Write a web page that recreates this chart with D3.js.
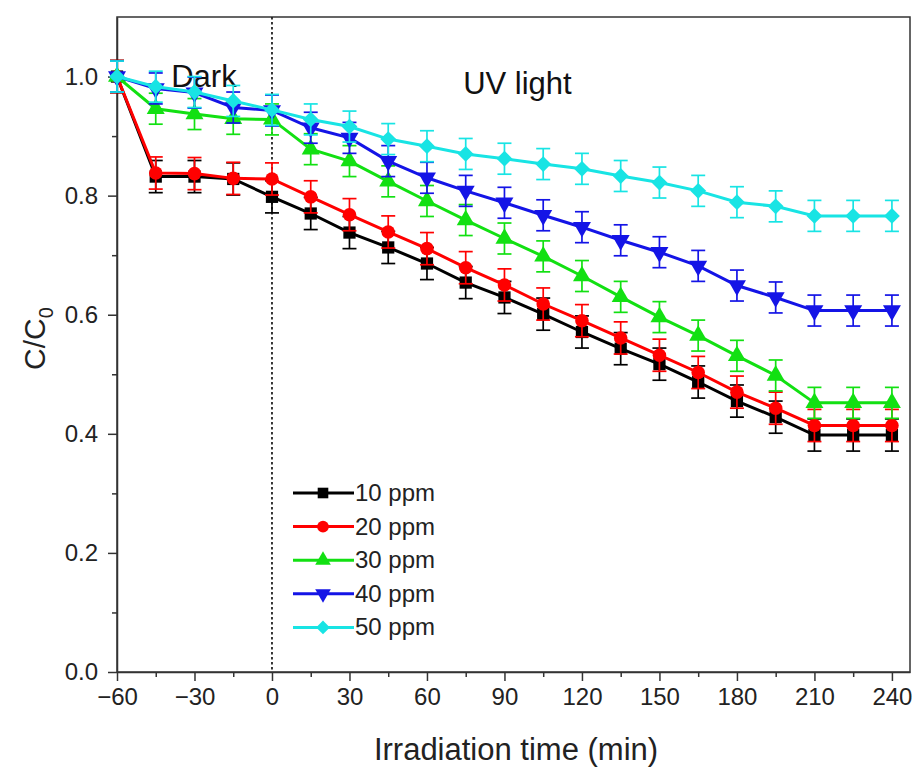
<!DOCTYPE html>
<html>
<head>
<meta charset="utf-8">
<script src="https://cdn.jsdelivr.net/npm/d3@7"></script>
<style>
  html, body { margin: 0; padding: 0; background: #fff; }
  svg { display: block; font-family: "Liberation Sans", Arial, sans-serif; }
</style>
</head>
<body>
<svg id="chart" width="916" height="771"></svg>
<script>
// Sampling times (min); negative values are the dark adsorption period
const times = [-60, -45, -30, -15, 0, 15, 30, 45, 60, 75, 90, 105, 120, 135, 150, 165, 180, 195, 210, 225, 240];

// C/C0 for each initial concentration
const ppm10 = [1.00, 0.832, 0.832, 0.828, 0.798, 0.770, 0.738, 0.713, 0.686, 0.654, 0.629, 0.601, 0.571, 0.543, 0.517, 0.487, 0.455, 0.428, 0.398, 0.398, 0.398];
const ppm20 = [1.00, 0.838, 0.837, 0.829, 0.828, 0.798, 0.768, 0.739, 0.711, 0.679, 0.650, 0.618, 0.590, 0.561, 0.532, 0.503, 0.470, 0.443, 0.414, 0.414, 0.414];
const ppm30 = [1.00, 0.946, 0.937, 0.929, 0.928, 0.878, 0.858, 0.824, 0.791, 0.759, 0.728, 0.698, 0.665, 0.630, 0.596, 0.565, 0.531, 0.498, 0.452, 0.452, 0.452];
const ppm40 = [1.00, 0.980, 0.973, 0.948, 0.943, 0.914, 0.897, 0.858, 0.830, 0.808, 0.788, 0.767, 0.747, 0.725, 0.705, 0.682, 0.649, 0.629, 0.607, 0.607, 0.607];
const ppm50 = [1.00, 0.983, 0.974, 0.959, 0.944, 0.928, 0.916, 0.895, 0.883, 0.870, 0.862, 0.853, 0.845, 0.833, 0.822, 0.808, 0.789, 0.782, 0.766, 0.766, 0.766];

// Standard deviation of C/C0 per series
const errors = [0.027, 0.027, 0.026, 0.026, 0.026];

const seriesNames = ["10 ppm", "20 ppm", "30 ppm", "40 ppm", "50 ppm"];
const seriesColors = ["#000000", "#ff0000", "#12e012", "#1414e6", "#18e4e4"];

const xTicks = [-60, -30, 0, 30, 60, 90, 120, 150, 180, 210, 240];
const yTicks = [0.0, 0.2, 0.4, 0.6, 0.8, 1.0];

const seriesValues = [ppm10, ppm20, ppm30, ppm40, ppm50];

const svg = d3.select("#chart");
const plotLeft = 117, plotRight = 910, plotTop = 17, plotBottom = 672;

const x = d3.scaleLinear().domain([-60, 247]).range([plotLeft, plotRight]);
const y = d3.scaleLinear().domain([0, 1.1]).range([plotBottom, plotTop]);

// Marker shapes: square, circle, up triangle, down triangle, diamond
const markers = [
  { type: d3.symbolSquare, size: 150, rot: 0 },
  { type: d3.symbolCircle, size: 145, rot: 0 },
  { type: d3.symbolTriangle, size: 140, rot: 0 },
  { type: d3.symbolTriangle, size: 140, rot: 180 },
  { type: d3.symbolSquare, size: 125, rot: 45 }
];

// Plot frame
svg.append("rect")
  .attr("x", plotLeft).attr("y", plotTop)
  .attr("width", plotRight - plotLeft).attr("height", plotBottom - plotTop)
  .attr("fill", "none").attr("stroke", "#333").attr("stroke-width", 1.5);

// Axes with major and minor ticks
const fmtY = d3.format(".1f");
const fmtX = v => (v < 0 ? "\u2212" + Math.abs(v) : String(v));

const xMinor = d3.range(-60, 241, 15).filter(v => !xTicks.includes(v));
const yMinor = [0.1, 0.3, 0.5, 0.7, 0.9];

const xAxis = svg.append("g").attr("transform", `translate(0,${plotBottom})`)
  .call(d3.axisBottom(x).tickValues(xTicks).tickFormat(fmtX).tickSizeInner(9).tickSizeOuter(0).tickPadding(7));
svg.append("g").attr("transform", `translate(0,${plotBottom})`)
  .call(d3.axisBottom(x).tickValues(xMinor).tickFormat("").tickSizeInner(5).tickSizeOuter(0))
  .select(".domain").remove();

const yAxis = svg.append("g").attr("transform", `translate(${plotLeft},0)`)
  .call(d3.axisLeft(y).tickValues(yTicks).tickFormat(fmtY).tickSizeInner(9).tickSizeOuter(0).tickPadding(10));
svg.append("g").attr("transform", `translate(${plotLeft},0)`)
  .call(d3.axisLeft(y).tickValues(yMinor).tickFormat("").tickSizeInner(5).tickSizeOuter(0))
  .select(".domain").remove();

svg.selectAll(".tick line").attr("stroke", "#333").attr("stroke-width", 1.5);
svg.selectAll(".domain").attr("stroke", "#333").attr("stroke-width", 1.5);
xAxis.selectAll("text").style("font-size", "24px").attr("fill", "#222")
  .style("font-family", "'Liberation Sans', Arial, sans-serif");
yAxis.selectAll("text").style("font-size", "24px").attr("fill", "#222")
  .style("font-family", "'Liberation Sans', Arial, sans-serif");

// Boundary between dark and UV stages
svg.append("line")
  .attr("x1", x(0)).attr("x2", x(0))
  .attr("y1", plotTop).attr("y2", plotBottom)
  .attr("stroke", "#222").attr("stroke-width", 1.8)
  .attr("stroke-dasharray", "2.5,2.5");

svg.append("text").attr("x", x(-39)).attr("y", 87)
  .attr("font-size", 31).attr("fill", "#111").text("Dark");
svg.append("text").attr("x", x(74)).attr("y", 94)
  .attr("font-size", 31).attr("fill", "#111").text("UV light");

// Series: lines, error bars, markers
const line = d3.line().x(d => x(d.t)).y(d => y(d.v));

seriesValues.forEach((vals, i) => {
  const color = seriesColors[i];
  const pts = times.map((t, j) => ({ t, v: vals[j] }));
  const g = svg.append("g");

  g.append("path").datum(pts)
    .attr("d", line)
    .attr("fill", "none").attr("stroke", color).attr("stroke-width", 3);

  const err = errors[i];
  const eb = g.selectAll(".err").data(pts).enter().append("g");
  eb.append("line")
    .attr("x1", d => x(d.t)).attr("x2", d => x(d.t))
    .attr("y1", d => y(d.v + err)).attr("y2", d => y(d.v - err))
    .attr("stroke", color).attr("stroke-width", 1.7);
  [1, -1].forEach(s => {
    eb.append("line")
      .attr("x1", d => x(d.t) - 7).attr("x2", d => x(d.t) + 7)
      .attr("y1", d => y(d.v + s * err)).attr("y2", d => y(d.v + s * err))
      .attr("stroke", color).attr("stroke-width", 1.7);
  });

  const m = markers[i];
  g.selectAll(".mk").data(pts).enter().append("path")
    .attr("d", d3.symbol().type(m.type).size(m.size))
    .attr("transform", d => `translate(${x(d.t)},${y(d.v)}) rotate(${m.rot})`)
    .attr("fill", color);
});

// Legend
const legY0 = 493, legStep = 33.6;
seriesNames.forEach((name, i) => {
  const ly = legY0 + i * legStep;
  const color = seriesColors[i];
  const m = markers[i];
  svg.append("line").attr("x1", 293).attr("x2", 354)
    .attr("y1", ly).attr("y2", ly)
    .attr("stroke", color).attr("stroke-width", 3);
  svg.append("path")
    .attr("d", d3.symbol().type(m.type).size(m.size * 0.75))
    .attr("transform", `translate(323,${ly}) rotate(${m.rot})`)
    .attr("fill", color);
  svg.append("text").attr("x", 355).attr("y", ly + 8)
    .attr("font-size", 24).attr("fill", "#222").text(name);
});

// Axis titles
svg.append("text")
  .attr("x", 516).attr("y", 760)
  .attr("text-anchor", "middle").attr("font-size", 31).attr("fill", "#222")
  .text("Irradiation time (min)");

const yt = svg.append("text")
  .attr("transform", `translate(45,${y(0.56)}) rotate(-90)`)
  .attr("text-anchor", "middle").attr("font-size", 30).attr("fill", "#222");
yt.append("tspan").text("C/C");
yt.append("tspan").attr("font-size", 20).attr("dy", 8).text("0");
</script>
</body>
</html>
